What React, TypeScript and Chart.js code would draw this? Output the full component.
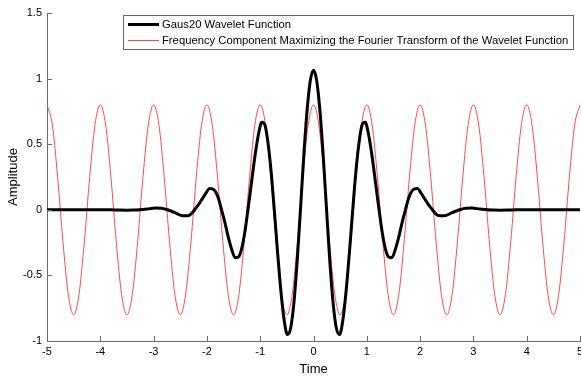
import React, { useEffect, useRef } from 'react';
import { Chart, registerables } from 'chart.js';

Chart.register(...registerables);

const xTicks = [-5, -4, -3, -2, -1, 0, 1, 2, 3, 4, 5];
const yTicks = [-1, -0.5, 0, 0.5, 1, 1.5];
const xTitle = 'Time';
const yTitle = 'Amplitude';
const legendLabels = [
  'Gaus20 Wavelet Function',
  'Frequency Component Maximizing the Fourier Transform of the Wavelet Function',
];

const redTime = [
  -5, -4.9, -4.8, -4.7, -4.6, -4.5, -4.4, -4.3, -4.2, -4.1,
  -4, -3.9, -3.8, -3.7, -3.6, -3.5, -3.4, -3.3, -3.2, -3.1,
  -3, -2.9, -2.8, -2.7, -2.6, -2.5, -2.4, -2.3, -2.2, -2.1,
  -2, -1.9, -1.8, -1.7, -1.6, -1.5, -1.4, -1.3, -1.2, -1.1,
  -1, -0.9, -0.8, -0.7, -0.6, -0.5, -0.4, -0.3, -0.2, -0.1,
  0, 0.1, 0.2, 0.3, 0.4, 0.5, 0.6, 0.7, 0.8, 0.9,
  1, 1.1, 1.2, 1.3, 1.4, 1.5, 1.6, 1.7, 1.8, 1.9,
  2, 2.1, 2.2, 2.3, 2.4, 2.5, 2.6, 2.7, 2.8, 2.9,
  3, 3.1, 3.2, 3.3, 3.4, 3.5, 3.6, 3.7, 3.8, 3.9,
  4, 4.1, 4.2, 4.3, 4.4, 4.5, 4.6, 4.7, 4.8, 4.9,
  5,
];
const redAmp = [
  0.8, 0.647, 0.247, -0.247, -0.647, -0.8, -0.647, -0.247, 0.247, 0.647,
  0.8, 0.647, 0.247, -0.247, -0.647, -0.8, -0.647, -0.247, 0.247, 0.647,
  0.8, 0.647, 0.247, -0.247, -0.647, -0.8, -0.647, -0.247, 0.247, 0.647,
  0.8, 0.647, 0.247, -0.247, -0.647, -0.8, -0.647, -0.247, 0.247, 0.647,
  0.8, 0.647, 0.247, -0.247, -0.647, -0.8, -0.647, -0.247, 0.247, 0.647,
  0.8, 0.647, 0.247, -0.247, -0.647, -0.8, -0.647, -0.247, 0.247, 0.647,
  0.8, 0.647, 0.247, -0.247, -0.647, -0.8, -0.647, -0.247, 0.247, 0.647,
  0.8, 0.647, 0.247, -0.247, -0.647, -0.8, -0.647, -0.247, 0.247, 0.647,
  0.8, 0.647, 0.247, -0.247, -0.647, -0.8, -0.647, -0.247, 0.247, 0.647,
  0.8, 0.647, 0.247, -0.247, -0.647, -0.8, -0.647, -0.247, 0.247, 0.647,
  0.8,
];

// Black: Gaus20 wavelet (points read along the curve from the picture)
const blackTime = [
  -5, -4.37, -4.1, -3.8, -3.65, -3.5, -3.38, -3.26, -3.12, -2.97,
  -2.855, -2.74, -2.6, -2.45, -2.34, -2.285, -2.23, -2.16, -2.09, -2.02,
  -1.95, -1.895, -1.84, -1.78, -1.725, -1.66, -1.6, -1.535, -1.47, -1.41,
  -1.35, -1.29, -1.23, -1.165, -1.1, -1.035, -0.97, -0.91, -0.855, -0.795,
  -0.736, -0.675, -0.613, -0.551, -0.49, -0.429, -0.367, -0.306, -0.245, -0.184,
  -0.1225, -0.061, 0,
  0.061, 0.1225, 0.184, 0.245, 0.306, 0.367, 0.429, 0.49, 0.551, 0.613,
  0.675, 0.736, 0.795, 0.855, 0.91, 0.97, 1.035, 1.1, 1.165, 1.23,
  1.29, 1.35, 1.41, 1.47, 1.535, 1.6, 1.66, 1.725, 1.78, 1.84,
  1.895, 1.95, 2.02, 2.09, 2.16, 2.23, 2.285, 2.34, 2.45, 2.6,
  2.74, 2.855, 2.97, 3.12, 3.26, 3.38, 3.5, 3.65, 3.8, 4.1,
  4.37, 5,
];
const blackAmp = [
  0, 0, 0, 0, -0.002, -0.003, -0.002, 0, 0.006, 0.013,
  0.012, 0, -0.022, -0.046, -0.043, -0.027, 0, 0.037, 0.081, 0.126,
  0.163, 0.16, 0.139, 0.083, 0, -0.101, -0.207, -0.302, -0.365, -0.36,
  -0.299, -0.174, 0, 0.202, 0.404, 0.57, 0.668, 0.645, 0.514, 0.291,
  0, -0.318, -0.614, -0.84, -0.951, -0.903, -0.708, -0.39, 0, 0.402,
  0.747, 0.981, 1.064,
  0.981, 0.747, 0.402, 0, -0.39, -0.708, -0.903, -0.951, -0.84, -0.614,
  -0.318, 0, 0.291, 0.514, 0.645, 0.668, 0.57, 0.404, 0.202, 0,
  -0.174, -0.299, -0.36, -0.365, -0.302, -0.207, -0.101, 0, 0.083, 0.139,
  0.16, 0.163, 0.126, 0.081, 0.037, 0, -0.027, -0.043, -0.046, -0.022,
  0, 0.012, 0.013, 0.006, 0, -0.002, -0.003, -0.002, 0, 0,
  0, 0,
];

const FONT = "'Liberation Sans', Arial, Helvetica, sans-serif";
const AXIS_COLOR = '#6a6a6a';
const RED = '#ff4a4a';

const decorPlugin = {
  id: 'decor',
  afterDraw(chart: any) {
    const ctx = chart.ctx;
    const area = chart.chartArea;
    const xs = chart.scales.x;
    const ys = chart.scales.y;
    ctx.save();
    // inward tick marks
    ctx.strokeStyle = AXIS_COLOR;
    ctx.lineWidth = 1;
    ctx.beginPath();
    xTicks.forEach((v) => {
      const px = Math.round(xs.getPixelForValue(v)) + 0.5;
      ctx.moveTo(px, area.bottom);
      ctx.lineTo(px, area.bottom - 5);
    });
    yTicks.forEach((v) => {
      const py = Math.round(ys.getPixelForValue(v)) + 0.5;
      ctx.moveTo(area.left, py);
      ctx.lineTo(area.left + 5, py);
    });
    ctx.stroke();

    // axis titles
    ctx.fillStyle = '#000';
    ctx.font = `13px ${FONT}`;
    ctx.textAlign = 'center';
    ctx.textBaseline = 'middle';
    ctx.fillText(xTitle, (area.left + area.right) / 2, 369);
    ctx.save();
    ctx.translate(13, (area.top + area.bottom) / 2);
    ctx.rotate(-Math.PI / 2);
    ctx.fillText(yTitle, 0, 0);
    ctx.restore();

    // legend
    const lx = 123.5, ly = 15.5, lw = 450, lh = 34;
    ctx.fillStyle = '#fff';
    ctx.fillRect(lx, ly, lw, lh);
    ctx.strokeStyle = '#666';
    ctx.lineWidth = 1;
    ctx.strokeRect(lx, ly, lw, lh);
    const rows = [
      { y: 24.5, color: '#000', width: 3 },
      { y: 40.5, color: RED, width: 1 },
    ];
    rows.forEach((r, i) => {
      ctx.strokeStyle = r.color;
      ctx.lineWidth = r.width;
      ctx.beginPath();
      ctx.moveTo(128, r.y);
      ctx.lineTo(159, r.y);
      ctx.stroke();
      ctx.fillStyle = '#000';
      ctx.font = `11.25px ${FONT}`;
      ctx.textAlign = 'left';
      ctx.textBaseline = 'middle';
      ctx.fillText(legendLabels[i], 162, r.y + 0.5);
    });
    ctx.restore();
  },
};

export default function App() {
  const ref = useRef<HTMLCanvasElement | null>(null);
  useEffect(() => {
    if (!ref.current) return;
    const chart = new Chart(ref.current, {
      type: 'line',
      data: {
        datasets: [
          {
            label: legendLabels[0],
            data: blackTime.map((t, i) => ({ x: t, y: blackAmp[i] })),
            borderColor: '#000000',
            borderWidth: 3,
            pointRadius: 0,
            tension: 0.4,
            cubicInterpolationMode: 'monotone',
            fill: false,
          },
          {
            label: legendLabels[1],
            data: redTime.map((t, i) => ({ x: t, y: redAmp[i] })),
            borderColor: RED,
            borderWidth: 1,
            pointRadius: 0,
            tension: 0.4,
            cubicInterpolationMode: 'monotone',
            fill: false,
          },
        ],
      },
      options: {
        responsive: false,
        animation: false,
        devicePixelRatio: 1,
        layout: { padding: { top: 13, right: 1, left: 0, bottom: 0 } },
        plugins: { legend: { display: false }, tooltip: { enabled: false } },
        scales: {
          x: {
            type: 'linear',
            min: -5,
            max: 5,
            afterBuildTicks: (s: any) => {
              s.ticks = xTicks.map((v) => ({ value: v }));
            },
            afterFit: (s: any) => {
              s.height = 36;
              s.paddingLeft = 0;
              s.paddingRight = 0;
            },
            grid: { display: false, drawTicks: false },
            border: { display: true, color: AXIS_COLOR, width: 1 },
            ticks: {
              color: '#000',
              font: { family: FONT, size: 11 },
              padding: 4,
              maxRotation: 0,
              autoSkip: false,
              callback: (v: any) => String(v),
            },
          },
          y: {
            type: 'linear',
            min: -1,
            max: 1.5,
            afterBuildTicks: (s: any) => {
              s.ticks = yTicks.map((v) => ({ value: v }));
            },
            afterFit: (s: any) => {
              s.width = 47;
              s.paddingTop = 0;
              s.paddingBottom = 0;
            },
            grid: { display: false, drawTicks: false },
            border: { display: true, color: AXIS_COLOR, width: 1 },
            ticks: {
              color: '#000',
              font: { family: FONT, size: 11 },
              padding: 5,
              autoSkip: false,
              callback: (v: any) => String(v),
            },
          },
        },
      },
      plugins: [decorPlugin],
    } as any);
    return () => chart.destroy();
  }, []);
  return (
    <div style={{ position: 'absolute', left: 0, top: 0, width: 581, height: 377, background: '#fff' }}>
      <canvas ref={ref} width={581} height={377} style={{ display: 'block', width: 581, height: 377 }} />
    </div>
  );
}
